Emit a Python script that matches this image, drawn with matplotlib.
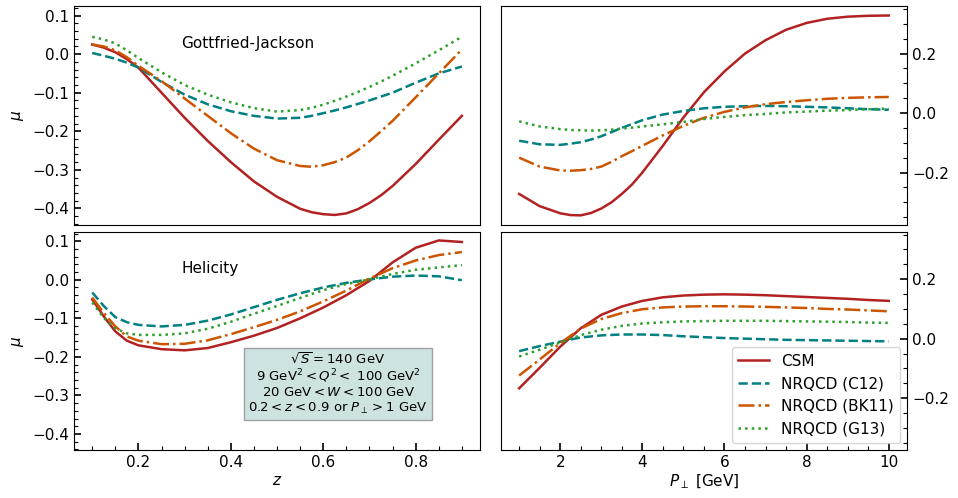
import matplotlib
matplotlib.use("Agg")
import matplotlib.pyplot as plt
from matplotlib.ticker import MultipleLocator

# ---- data ----
# Gottfried-Jackson frame, vs z
z_gj = [0.10, 0.125, 0.15, 0.175, 0.20, 0.25, 0.30, 0.35, 0.40, 0.45, 0.50, 0.55,
        0.575, 0.60, 0.625, 0.65, 0.675, 0.70, 0.725, 0.75, 0.80, 0.85, 0.90]
gj_z_csm = [0.025, 0.017, 0.005, -0.013, -0.035, -0.10, -0.165, -0.225, -0.28, -0.33, -0.37, -0.401,
            -0.41, -0.415, -0.417, -0.413, -0.402, -0.386, -0.366, -0.342, -0.285, -0.222, -0.16]
gj_z_c12 = [0.003, -0.004, -0.012, -0.022, -0.035, -0.072, -0.105, -0.13, -0.148, -0.16, -0.167, -0.165,
            -0.16, -0.153, -0.146, -0.138, -0.129, -0.12, -0.11, -0.10, -0.074, -0.05, -0.032]
gj_z_bk11 = [0.025, 0.02, 0.01, -0.008, -0.03, -0.07, -0.115, -0.16, -0.205, -0.245, -0.275, -0.29,
             -0.292, -0.288, -0.28, -0.268, -0.249, -0.226, -0.20, -0.173, -0.112, -0.05, 0.012]
gj_z_g13 = [0.045, 0.038, 0.028, 0.01, -0.01, -0.047, -0.08, -0.105, -0.125, -0.14, -0.149, -0.145,
            -0.139, -0.131, -0.121, -0.11, -0.098, -0.085, -0.071, -0.056, -0.024, 0.01, 0.045]

# Helicity frame, vs z
z_hx = [0.10, 0.125, 0.15, 0.175, 0.20, 0.25, 0.30, 0.35, 0.40, 0.45,
        0.50, 0.55, 0.60, 0.65, 0.70, 0.75, 0.80, 0.85, 0.90]
hx_z_csm = [-0.051, -0.095, -0.134, -0.158, -0.17, -0.18, -0.183, -0.177, -0.162, -0.145,
            -0.125, -0.10, -0.072, -0.04, -0.003, 0.045, 0.083, 0.102, 0.098]
hx_z_c12 = [-0.033, -0.068, -0.097, -0.11, -0.117, -0.121, -0.117, -0.106, -0.09, -0.071,
            -0.052, -0.035, -0.02, -0.008, 0.001, 0.008, 0.011, 0.009, -0.001]
hx_z_bk11 = [-0.046, -0.086, -0.121, -0.147, -0.158, -0.167, -0.166, -0.157, -0.141, -0.123,
             -0.104, -0.082, -0.056, -0.028, 0.003, 0.03, 0.05, 0.064, 0.072]
hx_z_g13 = [-0.059, -0.099, -0.126, -0.139, -0.143, -0.143, -0.139, -0.127, -0.109, -0.088,
            -0.068, -0.047, -0.027, -0.011, 0.001, 0.015, 0.026, 0.032, 0.038]

# Gottfried-Jackson frame, vs P_perp
pt_gj = [1.0, 1.5, 2.0, 2.25, 2.5, 2.75, 3.0, 3.25, 3.5, 3.75, 4.0, 4.5,
         5.0, 5.5, 6.0, 6.5, 7.0, 7.5, 8.0, 8.5, 9.0, 9.5, 10.0]
gj_pt_csm = [-0.272, -0.313, -0.337, -0.343, -0.344, -0.336, -0.321, -0.30, -0.272, -0.24, -0.20, -0.11,
             -0.015, 0.07, 0.14, 0.20, 0.245, 0.28, 0.303, 0.317, 0.324, 0.327, 0.328]
gj_pt_c12 = [-0.093, -0.105, -0.107, -0.103, -0.098, -0.089, -0.078, -0.064, -0.05, -0.037, -0.024, -0.005,
             0.007, 0.016, 0.021, 0.023, 0.024, 0.023, 0.021, 0.019, 0.016, 0.013, 0.011]
gj_pt_bk11 = [-0.15, -0.18, -0.193, -0.194, -0.192, -0.188, -0.18, -0.164, -0.145, -0.128, -0.11, -0.075,
              -0.043, -0.016, 0.004, 0.019, 0.03, 0.037, 0.043, 0.048, 0.051, 0.053, 0.054]
gj_pt_g13 = [-0.028, -0.045, -0.054, -0.057, -0.058, -0.059, -0.058, -0.056, -0.052, -0.049, -0.045, -0.038,
             -0.03, -0.02, -0.013, -0.007, -0.003, 0.002, 0.005, 0.008, 0.01, 0.013, 0.015]

# Helicity frame, vs P_perp
pt_hx = [1.0, 1.5, 2.0, 2.5, 3.0, 3.5, 4.0, 4.5, 5.0, 5.5,
         6.0, 6.5, 7.0, 7.5, 8.0, 8.5, 9.0, 9.5, 10.0]
hx_pt_csm = [-0.167, -0.098, -0.027, 0.035, 0.08, 0.108, 0.127, 0.139, 0.145, 0.148,
             0.149, 0.148, 0.146, 0.143, 0.14, 0.137, 0.134, 0.13, 0.127]
hx_pt_c12 = [-0.042, -0.025, -0.01, 0.004, 0.011, 0.014, 0.014, 0.012, 0.008, 0.005,
             0.002, 0.0, -0.002, -0.004, -0.005, -0.006, -0.007, -0.008, -0.009]
hx_pt_bk11 = [-0.124, -0.07, -0.015, 0.034, 0.066, 0.086, 0.099, 0.105, 0.108, 0.109,
              0.109, 0.108, 0.107, 0.105, 0.103, 0.10, 0.098, 0.095, 0.092]
hx_pt_g13 = [-0.06, -0.037, -0.013, 0.012, 0.03, 0.043, 0.051, 0.055, 0.058, 0.059,
             0.06, 0.06, 0.06, 0.059, 0.058, 0.057, 0.056, 0.054, 0.053]

labels = ["CSM", "NRQCD (C12)", "NRQCD (BK11)", "NRQCD (G13)"]
colors = ["#b22222", "#008080", "#cc5500", "#2ca02c"]
styles = ["-", "--", "-.", ":"]

fig, axes = plt.subplots(2, 2, figsize=(9.58, 4.98), dpi=100)
fig.subplots_adjust(left=0.077, right=0.947, bottom=0.096, top=0.988,
                    wspace=0.05, hspace=0.032)

panels = [
    (axes[0, 0], z_gj, [gj_z_csm, gj_z_c12, gj_z_bk11, gj_z_g13]),
    (axes[1, 0], z_hx, [hx_z_csm, hx_z_c12, hx_z_bk11, hx_z_g13]),
    (axes[0, 1], pt_gj, [gj_pt_csm, gj_pt_c12, gj_pt_bk11, gj_pt_g13]),
    (axes[1, 1], pt_hx, [hx_pt_csm, hx_pt_c12, hx_pt_bk11, hx_pt_g13]),
]
for ax, x, ys in panels:
    for y, lab, c, ls in zip(ys, labels, colors, styles):
        ax.plot(x, y, ls, color=c, lw=1.8, label=lab)
    ax.tick_params(which="both", direction="in", labelsize=11)
    ax.tick_params(which="major", length=5, width=1.2)
    ax.tick_params(which="minor", length=3, width=0.8)

for ax in axes[:, 0]:
    ax.set_ylim(-0.442, 0.125)
    ax.yaxis.set_major_locator(MultipleLocator(0.1))
    ax.yaxis.set_minor_locator(MultipleLocator(0.02))
    ax.xaxis.set_major_locator(MultipleLocator(0.2))
    ax.xaxis.set_minor_locator(MultipleLocator(0.05))
    ax.set_ylabel(r"$\mu$", fontsize=11)

for ax in axes[:, 1]:
    ax.set_ylim(-0.375, 0.36)
    ax.yaxis.set_major_locator(MultipleLocator(0.2))
    ax.yaxis.set_minor_locator(MultipleLocator(0.05))
    ax.xaxis.set_major_locator(MultipleLocator(2))
    ax.xaxis.set_minor_locator(MultipleLocator(0.5))
    ax.yaxis.tick_right()
    ax.tick_params(which="both", left=False, right=True)

axes[0, 0].sharex(axes[1, 0])
axes[0, 1].sharex(axes[1, 1])
for ax in axes[0, :]:
    ax.tick_params(which="both", bottom=False, labelbottom=False)

axes[1, 0].set_xlabel(r"$z$", fontsize=11, labelpad=2)
axes[1, 1].set_xlabel(r"$P_\perp$ [GeV]", fontsize=11, labelpad=2)

axes[0, 0].text(0.264, 0.83, "Gottfried-Jackson", transform=axes[0, 0].transAxes,
                fontsize=11, va="center")
axes[1, 0].text(0.264, 0.83, "Helicity", transform=axes[1, 0].transAxes,
                fontsize=11, va="center")

box_txt = ("$\\sqrt{S} = 140$ GeV\n"
           "9 GeV$^2 < Q^2 <$ 100 GeV$^2$\n"
           "20 GeV$< W <$100 GeV\n"
           "$0.2 < z < 0.9$ or $P_\\perp > 1$ GeV")
axes[1, 0].text(0.65, 0.305, box_txt, transform=axes[1, 0].transAxes,
                fontsize=9.5, ha="center", va="center", linespacing=1.1,
                bbox=dict(boxstyle="square,pad=0.3", facecolor="#cde3e1",
                          edgecolor="#a0a0a0"))

axes[1, 1].legend(loc="lower right", fontsize=11, handlelength=2.0)

fig.savefig("out.png", dpi=100)
plt.close(fig)
